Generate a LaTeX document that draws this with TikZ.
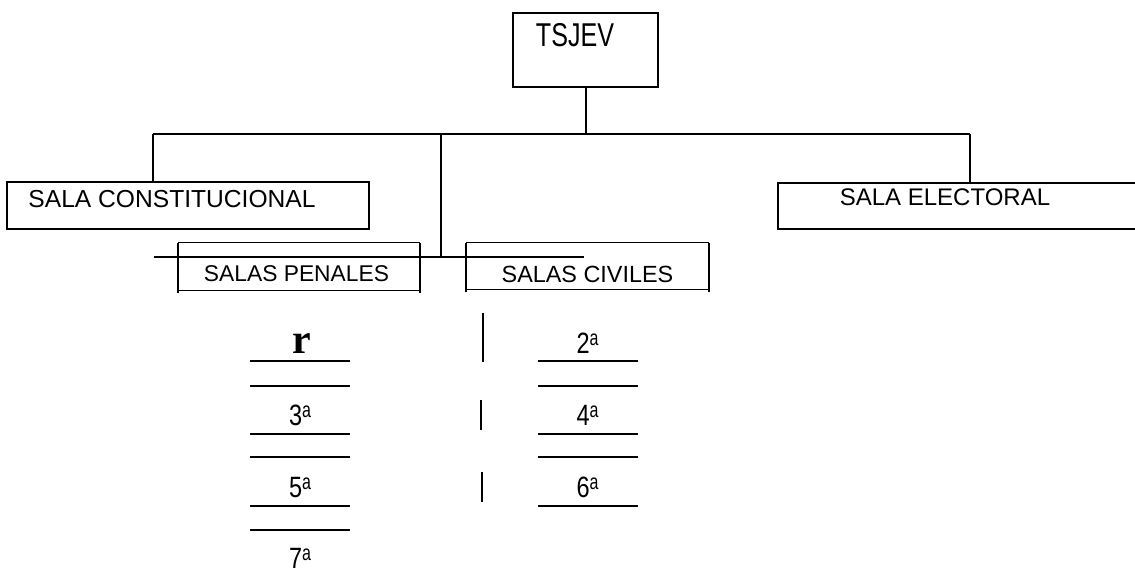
\documentclass[tikz,border=0pt]{standalone}
\usepackage{fontspec}
\setmainfont{Liberation Sans}
\newfontfamily\serifbold{Liberation Serif}[BoldFont={Liberation Serif Bold}]
\newcommand{\Ord}[1]{\scalebox{1}[1.25]{#1}\raisebox{8pt}{\scalebox{1}[1.35]{\fontsize{16}{16}\selectfont a}}}

\begin{document}
\begin{tikzpicture}[x=1pt, y=-1pt,
  main/.style = {draw, line width=2pt, rectangle, inner sep=0},
  frame/.style = {inner sep=0},
  lbl/.style = {inner sep=0, anchor=base, font=\fontsize{24}{28}\selectfont},
  num/.style = {inner sep=0, anchor=base, font=\fontsize{23.5}{28}\selectfont},
  rule/.style = {line width=1.5pt}]

\useasboundingbox (0,0) rectangle (1135,575);

\node[main, minimum width=145, minimum height=74] (tsjev) at (585.5, 50) {};
\node[lbl, font=\fontsize{33}{36}\selectfont] (tsjevtxt) at (575, 47) {\scalebox{0.76}[1]{TSJEV}};

\node[main, minimum width=362, minimum height=47] (const) at (188, 205.5) {};
\node[lbl, font=\fontsize{24.6}{28}\selectfont] (consttxt) at (172, 207) {SALA CONSTITUCIONAL};

\node[main, minimum width=367, minimum height=46] (elec) at (961.5, 206) {};
\node[lbl] (electxt) at (945, 205) {SALA ELECTORAL};

\node[frame, minimum width=242, minimum height=47] (pen) at (299, 266.5) {};
\node[lbl, font=\fontsize{22.8}{28}\selectfont] (pentxt) at (296.5, 281) {SALAS PENALES};

\node[frame, minimum width=243, minimum height=46] (civ) at (587.5, 266) {};
\node[lbl, font=\fontsize{23.4}{28}\selectfont] (civtxt) at (587.5, 282) {SALAS CIVILES};

\coordinate (busL) at (153, 134);
\coordinate (busM) at (441, 134);
\coordinate (busR) at (970, 134);
\coordinate (jn) at (441, 257);
\coordinate (penL) at (154, 257);
\coordinate (civR) at (584, 257);

\draw[line width=2pt] (tsjev.south) -- (tsjev.south |- busM);
\draw[line width=2pt] (busL) -- (busR);
\draw[line width=2pt] (busL) -- (busL |- const.north);
\draw[line width=2pt] (busR) -- (busR |- elec.north);
\draw[line width=2pt] (busM) -- (jn);
\draw[line width=2pt] (penL) -- (civR);

\draw[line width=1pt] (pen.north west) -- (pen.north east);
\draw[line width=1pt] (pen.south west) -- (pen.south east);
\draw[line width=2pt] (pen.north west) -- ([yshift=-3pt]pen.south west);
\draw[line width=2pt] (pen.north east) -- ([yshift=-3pt]pen.south east);

\draw[line width=1pt] (civ.north west) -- (civ.north east);
\draw[line width=1pt] (civ.south west) -- (civ.south east);
\draw[line width=2pt] (civ.north west) -- ([yshift=-3pt]civ.south west);
\draw[line width=2pt] (civ.north east) -- ([yshift=-3pt]civ.south east);

% odd chambers
\node[inner sep=0, anchor=base, font=\serifbold\bfseries\fontsize{42}{44}\selectfont] (s1) at (302, 353) {r};
\node[num] (s3) at (300, 425) {\Ord{3}};
\node[num] (s5) at (300, 497) {\Ord{5}};
\node[num] (s7) at (300, 568) {\Ord{7}};

\draw[rule] (250, 361) -- (350, 361);
\draw[rule] (250, 386) -- (350, 386);
\draw[rule] (250, 434) -- (350, 434);
\draw[rule] (250, 457) -- (350, 457);
\draw[rule] (250, 506) -- (350, 506);
\draw[rule] (250, 530) -- (350, 530);

% even chambers
\node[num] (s2) at (587.5, 353) {\Ord{2}};
\node[num] (s4) at (587.5, 425) {\Ord{4}};
\node[num] (s6) at (587.5, 497) {\Ord{6}};

\draw[rule] (538, 361) -- (638, 361);
\draw[rule] (538, 386) -- (638, 386);
\draw[rule] (538, 434) -- (638, 434);
\draw[rule] (538, 457) -- (638, 457);
\draw[rule] (538, 506) -- (638, 506);

\draw[line width=2pt] (483, 313) -- (483, 362);
\draw[line width=2pt] (481, 400) -- (481, 430);
\draw[line width=2pt] (482, 472) -- (482, 502);

\end{tikzpicture}
\end{document}
